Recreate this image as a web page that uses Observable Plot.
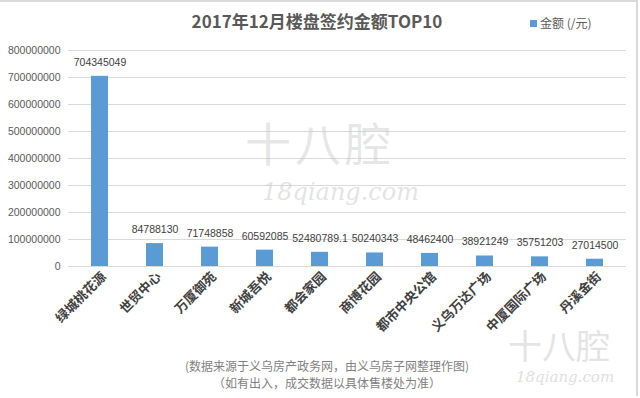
<!DOCTYPE html>
<html><head><meta charset="utf-8">
<script src="https://cdn.jsdelivr.net/npm/d3@7"></script>
<script src="https://cdn.jsdelivr.net/npm/@observablehq/plot@0.6"></script>
<style>
html,body{margin:0;padding:0;background:#fff;}
#wrap{position:relative;width:640px;height:398px;overflow:hidden;font-family:"Noto Sans CJK SC","Noto Sans",sans-serif;}
#frame{position:absolute;left:0;top:0;width:636px;height:394px;border:2px solid #d9d9d9;border-bottom:none;border-left:none;pointer-events:none;}
.t{position:absolute;white-space:nowrap;}
</style></head>
<body><div id="wrap"></div>
<script>
const categories = ["绿城桃花源","世贸中心","万厦御苑","新城吾悦","都会家园","商博花园","都市中央公馆","义乌万达广场","中厦国际广场","丹溪金街"];
const values = [704345049, 84788130, 71748858, 60592085, 52480789.1, 50240343, 48462400, 38921249, 35751203, 27014500];
const valueLabels = ["704345049","84788130","71748858","60592085","52480789.1","50240343","48462400","38921249","35751203","27014500"];
const yTicks = [0,100000000,200000000,300000000,400000000,500000000,600000000,700000000,800000000];
const title = "2017年12月楼盘签约金额TOP10";
const legendLabel = "金额 (/元)";
const notes = ["(数据来源于义乌房产政务网，由义乌房子网整理作图)","（如有出入，成交数据以具体售楼处为准）"];

const data = categories.map((c,i)=>({c, v: values[i], lab: valueLabels[i]}));
const font = "Noto Sans CJK SC, Noto Sans, sans-serif";
const numFont = "Liberation Sans, Arial, sans-serif";

const chart = Plot.plot({
  width: 640, height: 398,
  marginLeft: 68, marginRight: 14, marginTop: 50, marginBottom: 132,
  style: {fontFamily: font, background: "transparent", color: "#595959"},
  x: {domain: categories, paddingInner: 0.69, paddingOuter: 0.345, label: null},
  y: {domain: [0, 800000000], label: null},
  marks: [
    Plot.gridY(yTicks, {stroke: "#d9d9d9", strokeOpacity: 1, strokeWidth: 1}),
    Plot.barY(data, {x: "c", y: "v", fill: "#5b9bd5"}),
    Plot.text(data, {x: "c", y: "v", text: "lab", dy: -14, fill: "#404040", fontSize: 10.5, fontFamily: numFont}),
    Plot.axisY({ticks: yTicks, tickFormat: d => String(d), tickSize: 0, tickPadding: 8, fontSize: 10.5, fill: "#595959", fontFamily: numFont}),
    Plot.axisX({tickSize: 0, tickRotate: -45, tickPadding: 8, dx: 4, fontSize: 13, fill: "#404040", fontWeight: "bold"})
  ]
});
const wrap = document.getElementById("wrap");
wrap.appendChild(chart);
chart.style.position = "absolute"; chart.style.left = "0"; chart.style.top = "0";

function addText(txt, css){const d=document.createElement("div");d.className="t";d.textContent=txt;Object.assign(d.style,css);wrap.appendChild(d);return d;}
// watermark
addText("十八腔", {left:"245px", top:"108px", fontSize:"46px", color:"rgba(200,200,200,0.45)", fontFamily:font, letterSpacing:"4px"});
addText("18qiang.com", {left:"262px", top:"178px", fontSize:"24px", fontStyle:"italic", color:"rgba(200,200,200,0.5)", fontFamily:"DejaVu Serif"});
addText("十八腔", {left:"508px", top:"320px", fontSize:"34px", color:"rgba(200,200,200,0.5)", fontFamily:font});
addText("18qiang.com", {left:"516px", top:"368px", fontSize:"15px", fontStyle:"italic", color:"rgba(200,200,200,0.6)", fontFamily:"DejaVu Serif"});

addText(title, {left:"0", width:"634px", textAlign:"center", top:"8px", fontSize:"17px", fontWeight:"bold", color:"#595959", fontFamily:font});
const sw = document.createElement("div"); Object.assign(sw.style,{position:"absolute",left:"530px",top:"20px",width:"7px",height:"7px",background:"#5b9bd5"}); wrap.appendChild(sw);
addText(legendLabel, {left:"540px", top:"14px", fontSize:"12px", color:"#595959", fontFamily:font});
addText(notes[0], {left:"0", width:"654px", textAlign:"center", top:"357px", fontSize:"12px", color:"#7f7f7f", fontFamily:font});
addText(notes[1], {left:"0", width:"654px", textAlign:"center", top:"374px", fontSize:"12px", color:"#7f7f7f", fontFamily:font});
const fr=document.createElement("div");fr.id="frame";wrap.appendChild(fr);
</script></body></html>
